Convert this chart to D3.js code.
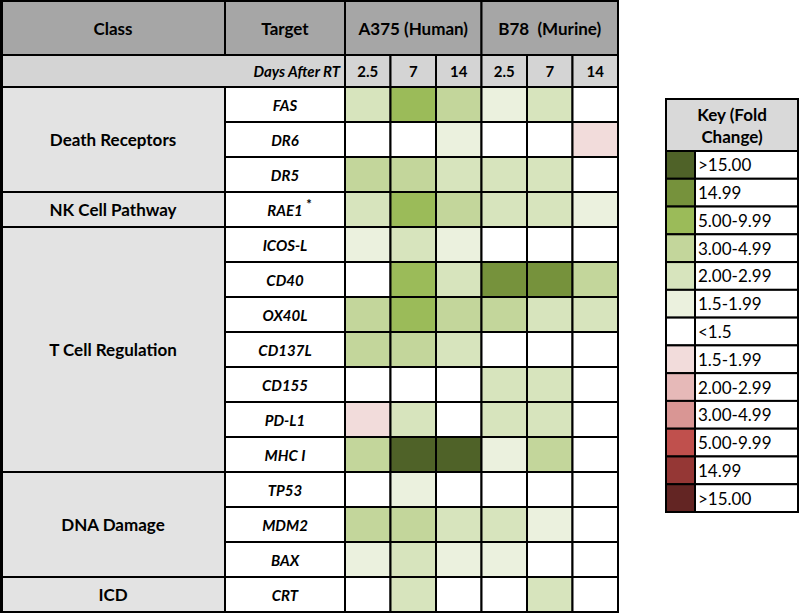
<!DOCTYPE html>
<html>
<head>
<meta charset="utf-8">
<script src="https://cdn.jsdelivr.net/npm/d3@7"></script>
<style>
  body { margin: 0; background: #fff; }
  svg { font-family: Lato, "Open Sans", sans-serif; }
</style>
</head>
<body>
<svg id="chart" width="800" height="614"></svg>
<script>
// ---- data ----
var targets = ["FAS", "DR6", "DR5", "RAE1", "ICOS-L", "CD40", "OX40L", "CD137L", "CD155", "PD-L1", "MHC I", "TP53", "MDM2", "BAX", "CRT"];
var classes = [
  {name: "Death Receptors", first: "FAS", last: "DR5"},
  {name: "NK Cell Pathway", first: "RAE1", last: "RAE1"},
  {name: "T Cell Regulation", first: "ICOS-L", last: "MHC I"},
  {name: "DNA Damage", first: "TP53", last: "BAX"},
  {name: "ICD", first: "CRT", last: "CRT"}
];
var lines = ["A375 (Human)", "B78  (Murine)"];
var days = ["2.5", "7", "14"];
// signed fold change (negative = down), columns: A375 2.5/7/14, B78 2.5/7/14
var foldA375 = [
  [2.5, 7, 4],      // FAS
  [1, 1, 1.7],      // DR6
  [4, 4, 2.5],      // DR5
  [2.5, 7, 4],      // RAE1
  [1.7, 2.5, 1.7],  // ICOS-L
  [1, 7, 2.5],      // CD40
  [4, 7, 4],        // OX40L
  [4, 4, 2.5],      // CD137L
  [1, 1, 1],        // CD155
  [-1.7, 2.5, 1],   // PD-L1
  [4, 18, 18],      // MHC I
  [1, 1.7, 1],      // TP53
  [4, 4, 2.5],      // MDM2
  [1.7, 2.5, 1.7],  // BAX
  [1, 2.5, 1]       // CRT
];
var foldB78 = [
  [1.7, 2.5, 1],
  [1, 1, -1.7],
  [2.5, 2.5, 1],
  [2.5, 2.5, 1.7],
  [1, 1, 1],
  [12, 12, 4],
  [4, 2.5, 2.5],
  [1, 1, 1],
  [2.5, 2.5, 1],
  [2.5, 2.5, 1],
  [1.7, 4, 1],
  [1, 1, 1],
  [2.5, 1.7, 1],
  [1.7, 1, 1],
  [1, 2.5, 1]
];
var keyLabels = [">15.00", "14.99", "5.00-9.99", "3.00-4.99", "2.00-2.99", "1.5-1.99", "<1.5",
                 "1.5-1.99", "2.00-2.99", "3.00-4.99", "5.00-9.99", "14.99", ">15.00"];
var keyColors = ["#4f6228", "#76923c", "#9bbb59", "#c3d69b", "#d7e4bd", "#ebf1de", "#ffffff",
                 "#f2dcdb", "#e6b9b8", "#d99694", "#c0504d", "#953735", "#632523"];

// threshold scale: ascending breaks, colours from deep red to deep green
var color = d3.scaleThreshold()
  .domain([-15, -10, -5, -3, -2, -1.5, 1.5, 2, 3, 5, 10, 15])
  .range(keyColors.slice(6).reverse().concat(keyColors.slice(0, 6).reverse()));

var svg = d3.select("#chart");

// layout
var classX = 1, targetX = 225, dataX0 = 345, dataX1 = 618;
var headTop = 1, headBot = 55, daysBot = 87, tableBot = 612;

var cols = [];
lines.forEach(function(l) { days.forEach(function(d) { cols.push(l + "|" + d); }); });

var x = d3.scaleBand().domain(cols).range([dataX0, dataX1]);
var y = d3.scaleBand().domain(targets).range([daysBot, tableBot]);

var cells = [];
targets.forEach(function(t, i) {
  foldA375[i].forEach(function(v, j) { cells.push({t: t, c: cols[j], v: v}); });
  foldB78[i].forEach(function(v, j) { cells.push({t: t, c: cols[j + 3], v: v}); });
});

var g = svg.append("g");

// header row
var lineX = d3.scaleBand().domain(lines).range([dataX0, dataX1]);
var head = [
  {label: "Class", x0: classX, x1: targetX},
  {label: "Target", x0: targetX, x1: dataX0}
].concat(lines.map(function(l) { return {label: l, x0: lineX(l), x1: lineX(l) + lineX.bandwidth()}; }));

g.selectAll("rect.head").data(head).enter().append("rect")
  .attr("class", "head")
  .attr("x", d => d.x0).attr("y", headTop)
  .attr("width", d => d.x1 - d.x0).attr("height", headBot - headTop)
  .attr("fill", "#a6a6a6").attr("stroke", "#000").attr("stroke-width", 2);
g.selectAll("text.head").data(head).enter().append("text")
  .attr("class", "head")
  .attr("x", d => (d.x0 + d.x1) / 2).attr("y", (headTop + headBot) / 2)
  .attr("text-anchor", "middle").attr("dominant-baseline", "central")
  .style("font-size", "17px").style("font-weight", "bold").style("white-space", "pre")
  .text(d => d.label);

// days row
g.append("rect")
  .attr("x", classX).attr("y", headBot).attr("width", dataX0 - classX).attr("height", daysBot - headBot)
  .attr("fill", "#d4d4d4").attr("stroke", "#000").attr("stroke-width", 2);
g.append("text")
  .attr("x", dataX0 - 5).attr("y", (headBot + daysBot) / 2)
  .attr("text-anchor", "end").attr("dominant-baseline", "central")
  .style("font-size", "15px").style("font-weight", "bold").style("font-style", "italic")
  .text("Days After RT");
g.selectAll("rect.day").data(cols).enter().append("rect")
  .attr("class", "day")
  .attr("x", d => x(d)).attr("y", headBot).attr("width", x.bandwidth()).attr("height", daysBot - headBot)
  .attr("fill", "#d4d4d4").attr("stroke", "#000").attr("stroke-width", 2);
g.selectAll("text.day").data(cols).enter().append("text")
  .attr("class", "day")
  .attr("x", d => x(d) + x.bandwidth() / 2).attr("y", (headBot + daysBot) / 2)
  .attr("text-anchor", "middle").attr("dominant-baseline", "central")
  .style("font-size", "15px").style("font-weight", "bold")
  .text(d => d.split("|")[1]);

// class cells
g.selectAll("rect.cls").data(classes).enter().append("rect")
  .attr("class", "cls")
  .attr("x", classX).attr("y", d => y(d.first))
  .attr("width", targetX - classX).attr("height", d => y(d.last) + y.bandwidth() - y(d.first))
  .attr("fill", "#e3e3e3").attr("stroke", "#000").attr("stroke-width", 2);
g.selectAll("text.cls").data(classes).enter().append("text")
  .attr("class", "cls")
  .attr("x", (classX + targetX) / 2)
  .attr("y", d => (y(d.first) + y(d.last) + y.bandwidth()) / 2)
  .attr("text-anchor", "middle").attr("dominant-baseline", "central")
  .style("font-size", "17px").style("font-weight", "bold")
  .text(d => d.name);

// target cells
g.selectAll("rect.tgt").data(targets).enter().append("rect")
  .attr("class", "tgt")
  .attr("x", targetX).attr("y", d => y(d)).attr("width", dataX0 - targetX).attr("height", y.bandwidth())
  .attr("fill", "#fff").attr("stroke", "#000").attr("stroke-width", 2);
g.selectAll("text.tgt").data(targets).enter().append("text")
  .attr("class", "tgt")
  .attr("x", (targetX + dataX0) / 2).attr("y", d => y(d) + y.bandwidth() / 2)
  .attr("text-anchor", "middle").attr("dominant-baseline", "central")
  .style("font-size", "15px").style("font-weight", "bold").style("font-style", "italic")
  .text(d => d);
g.append("text")
  .attr("x", (targetX + dataX0) / 2 + 24).attr("y", y("RAE1") + 12)
  .attr("text-anchor", "middle").attr("dominant-baseline", "central")
  .style("font-size", "13px").style("font-weight", "bold")
  .text("*");

// data cells
g.selectAll("rect.cell").data(cells).enter().append("rect")
  .attr("class", "cell")
  .attr("x", d => x(d.c)).attr("y", d => y(d.t))
  .attr("width", x.bandwidth()).attr("height", y.bandwidth())
  .attr("fill", d => color(d.v)).attr("stroke", "#000").attr("stroke-width", 2);

// thicker outer frame on the left
g.append("line").attr("x1", 1.5).attr("x2", 1.5).attr("y1", 0).attr("y2", tableBot + 1)
  .attr("stroke", "#000").attr("stroke-width", 3);

// ---- key ----
var keyX0 = 666, keyX1 = 798, keySw = 695, keyTop = 99, keyHeadBot = 151, keyBot = 512;
var ky = d3.scaleBand().domain(d3.range(keyLabels.length)).range([keyHeadBot, keyBot]);
var key = svg.append("g");
key.append("rect")
  .attr("x", keyX0).attr("y", keyTop).attr("width", keyX1 - keyX0).attr("height", keyHeadBot - keyTop)
  .attr("fill", "#d9d9d9").attr("stroke", "#000").attr("stroke-width", 2);
key.append("text")
  .attr("x", (keyX0 + keyX1) / 2).attr("y", keyTop + 15)
  .attr("text-anchor", "middle").attr("dominant-baseline", "central")
  .style("font-size", "17px").style("font-weight", "bold")
  .text("Key (Fold");
key.append("text")
  .attr("x", (keyX0 + keyX1) / 2).attr("y", keyTop + 37)
  .attr("text-anchor", "middle").attr("dominant-baseline", "central")
  .style("font-size", "17px").style("font-weight", "bold")
  .text("Change)");
var krow = key.selectAll("g.krow").data(keyLabels).enter().append("g").attr("class", "krow");
krow.append("rect")
  .attr("x", keyX0).attr("y", (d, i) => ky(i)).attr("width", keySw - keyX0).attr("height", ky.bandwidth())
  .attr("fill", (d, i) => keyColors[i]).attr("stroke", "#000").attr("stroke-width", 2);
krow.append("rect")
  .attr("x", keySw).attr("y", (d, i) => ky(i)).attr("width", keyX1 - keySw).attr("height", ky.bandwidth())
  .attr("fill", "#fff").attr("stroke", "#000").attr("stroke-width", 2);
krow.append("text")
  .attr("x", keySw + 3).attr("y", (d, i) => ky(i) + ky.bandwidth() / 2)
  .attr("dominant-baseline", "central")
  .style("font-size", "17px")
  .text(d => d);
</script>
</body>
</html>
